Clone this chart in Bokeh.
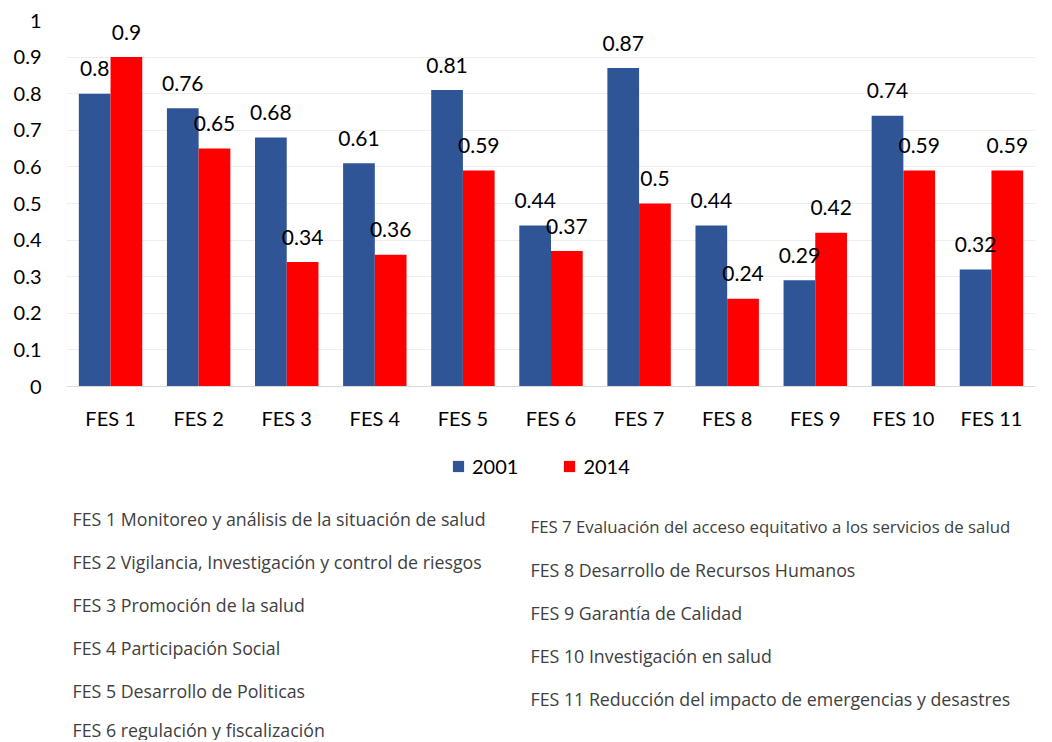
from bokeh.plotting import figure
from bokeh.models import ColumnDataSource, FactorRange, FixedTicker, Label, Range1d
from bokeh.transform import dodge
from bokeh.core.properties import value
from bokeh.embed import file_html
from bokeh.resources import INLINE

cats = ["FES 1", "FES 2", "FES 3", "FES 4", "FES 5", "FES 6", "FES 7", "FES 8", "FES 9", "FES 10", "FES 11"]
v2001 = [0.8, 0.76, 0.68, 0.61, 0.81, 0.44, 0.87, 0.44, 0.29, 0.74, 0.32]
v2014 = [0.9, 0.65, 0.34, 0.36, 0.59, 0.37, 0.5, 0.24, 0.42, 0.59, 0.59]
series = ["2001", "2014"]
yticks = [0, 0.1, 0.2, 0.3, 0.4, 0.5, 0.6, 0.7, 0.8, 0.9, 1]
desc_left = [
    "FES 1 Monitoreo y análisis de la situación de salud",
    "FES 2 Vigilancia, Investigación y control de riesgos",
    "FES 3 Promoción de la salud",
    "FES 4 Participación Social",
    "FES 5 Desarrollo de Politicas",
    "FES 6 regulación y fiscalización",
]
desc_right = [
    "FES 7 Evaluación del acceso equitativo a los   servicios de salud",
    "FES 8 Desarrollo de Recursos Humanos",
    "FES 9 Garantía de Calidad",
    "FES 10 Investigación en salud",
    "FES 11 Reducción del impacto de emergencias y desastres",
]

BLUE = "#2F5597"
RED = "#FF0000"
FONT = "Lato"
DFONT = "Open Sans"

W, H = 1048, 740
TOP, LEFT, RIGHT = 20, 66, 13
PX_PER_UNIT = 366.0
YMIN = -(H - TOP - PX_PER_UNIT) / PX_PER_UNIT

src = ColumnDataSource(dict(
    cats=cats, v2001=v2001, v2014=v2014,
    l2001=[str(v) for v in v2001], l2014=[str(v) for v in v2014],
))

p = figure(width=W, height=H, x_range=FactorRange(factors=cats),
           y_range=Range1d(YMIN, 1), output_backend="svg", toolbar_location=None,
           min_border_left=LEFT, min_border_right=RIGHT, min_border_top=TOP, min_border_bottom=0)
p.outline_line_color = None

p.vbar(x=dodge("cats", -0.18, range=p.x_range), top="v2001", width=0.36, source=src,
       fill_color=BLUE, line_color=None, legend_label=series[0])
p.vbar(x=dodge("cats", 0.18, range=p.x_range), top="v2014", width=0.36, source=src,
       fill_color=RED, line_color=None, legend_label=series[1])

p.text(x=dodge("cats", -0.18, range=p.x_range), y="v2001", text="l2001", source=src,
       text_align="center", text_baseline="middle", y_offset=-25,
       text_font=value(FONT), text_font_size="21px", text_color="#000000")
p.text(x=dodge("cats", 0.18, range=p.x_range), y="v2014", text="l2014", source=src,
       text_align="center", text_baseline="middle", y_offset=-25,
       text_font=value(FONT), text_font_size="21px", text_color="#000000")

p.yaxis.ticker = FixedTicker(ticks=yticks)
p.yaxis.major_label_overrides = {t: ("0" if t == 0 else "1" if t == 1 else str(t)) for t in yticks}
p.yaxis.axis_line_color = None
p.yaxis.major_tick_line_color = None
p.yaxis.minor_tick_line_color = None
p.yaxis.major_label_standoff = 19
p.yaxis.major_label_text_font = FONT
p.yaxis.major_label_text_font_size = "20px"
p.yaxis.major_label_text_color = "#000000"

p.xaxis.fixed_location = 0
p.xaxis.axis_line_color = "#d9d9d9"
p.xaxis.major_tick_line_color = None
p.xaxis.minor_tick_line_color = None
p.xaxis.major_label_standoff = 13
p.xaxis.major_label_text_font = FONT
p.xaxis.major_label_text_font_size = "20px"
p.xaxis.major_label_text_color = "#000000"

p.xgrid.grid_line_color = None
p.ygrid.grid_line_color = "#eeeeee"
p.ygrid.ticker = FixedTicker(ticks=yticks)

lg = p.legend[0]
lg.orientation = "horizontal"
lg.location = (385, H - TOP - 467 + 9)
lg.border_line_color = None
lg.background_fill_alpha = 0
lg.padding = 0
lg.margin = 0
lg.spacing = 44
lg.glyph_width = 14
lg.glyph_height = 14
lg.label_standoff = 7
lg.label_text_font = FONT
lg.label_text_font_size = "20px"
lg.label_text_color = "#000000"

ZERO = TOP + PX_PER_UNIT
CAT_W = (W - LEFT - RIGHT) / len(cats)

def yd(py):
    return (ZERO - py) / PX_PER_UNIT

def xd(px):
    return (px - LEFT) / CAT_W

left_y = [518, 561, 604, 647, 690, 729]
for t, py in zip(desc_left, left_y):
    p.add_layout(Label(x=xd(72), y=yd(py), text=t,
                       text_baseline="middle", text_font=DFONT, text_font_size="17.8px",
                       text_color="#404040"))
for i, t in enumerate(desc_right):
    p.add_layout(Label(x=xd(530), y=yd(526 + 43 * i), text=t,
                       text_baseline="middle", text_font=DFONT,
                       text_font_size="16.8px" if i == 0 else "17.8px",
                       text_color="#404040"))

open("out.html", "w").write(file_html(p, INLINE))
